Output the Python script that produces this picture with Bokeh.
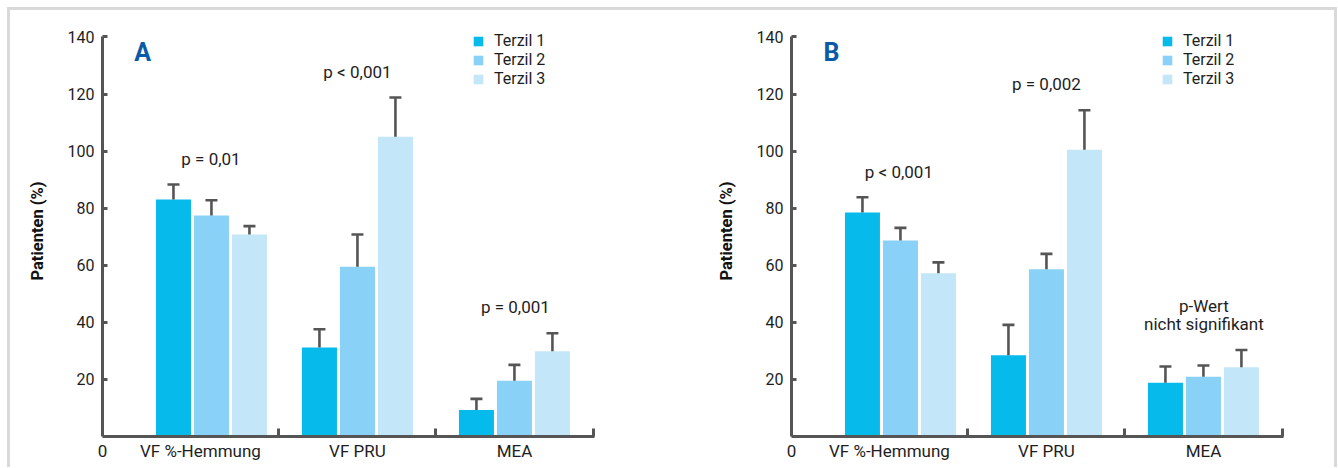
from bokeh.plotting import figure
from bokeh.models import (ColumnDataSource, FixedTicker, Whisker, TeeHead, Label,
                          Legend, LegendItem, Range1d, CustomJSTickFormatter)
from bokeh.layouts import row
from bokeh.embed import file_html
from bokeh.resources import INLINE

# ---------------- data ----------------
categories = ["VF %-Hemmung", "VF PRU", "MEA"]
series = ["Terzil 1", "Terzil 2", "Terzil 3"]
colors = ["#07BAEC", "#89D1F6", "#C3E6F8"]

a_t1 = [83.0, 31.2, 9.3]
a_t2 = [77.4, 59.5, 19.5]
a_t3 = [70.8, 105.0, 29.9]
a_t1_err = [88.3, 37.6, 13.2]
a_t2_err = [82.8, 70.8, 25.1]
a_t3_err = [73.7, 118.8, 36.2]

b_t1 = [78.5, 28.5, 18.8]
b_t2 = [68.7, 58.6, 20.9]
b_t3 = [57.2, 100.5, 24.3]
b_t1_err = [83.8, 39.1, 24.5]
b_t2_err = [73.1, 64.0, 24.9]
b_t3_err = [61.0, 114.3, 30.3]

y_ticks = [20, 40, 60, 80, 100, 120, 140]
origin_label = "0"
a_pvalues = ["p = 0,01", "p < 0,001", "p = 0,001"]
b_pvalues = ["p < 0,001", "p = 0,002", "p-Wert", "nicht signifikant"]

# ---------------- layout constants ----------------
FONT = "Roboto"
AX = "#555555"
TXT = "#1e1e1e"
X_START, X_END = 0.376, 3.51
Y_END = 144
group_pos = [1.07, 2.0, 3.0]
offsets = [-0.242, 0.0, 0.242]
BAR_W = 0.223
H = 457


def make_panel(letter, vals, errs, pvals, ppos, width, border_left, border_right):
    p = figure(width=width, height=H, output_backend="svg", toolbar_location=None,
               x_range=Range1d(X_START, X_END), y_range=Range1d(0, Y_END),
               min_border_left=border_left, min_border_right=border_right,
               min_border_top=15, min_border_bottom=31)
    p.outline_line_color = None
    p.xgrid.visible = False
    p.ygrid.visible = False

    renderers = []
    for i in range(3):
        xs = [g + offsets[i] for g in group_pos]
        src = ColumnDataSource(dict(x=xs, top=vals[i], err=errs[i]))
        r = p.vbar(x="x", top="top", width=BAR_W, source=src,
                   fill_color=colors[i], line_color=None)
        renderers.append(r)
        w = Whisker(source=src, base="x", lower="top", upper="err",
                    dimension="height", line_color=AX, line_width=2.6,
                    upper_head=TeeHead(size=12, line_color=AX, line_width=2.6),
                    lower_head=None, level="glyph")
        p.add_layout(w)

    # x axis
    xa = p.xaxis[0]
    xa.ticker = FixedTicker(ticks=[X_START + 0.0005, 1, 2, 3], minor_ticks=[1.5, 2.5, 3.505])
    xa.formatter = CustomJSTickFormatter(
        args=dict(labels=categories, zero=origin_label),
        code="if (tick < 0.9) { return zero; } return labels[Math.round(tick) - 1];")
    xa.major_tick_line_color = None
    xa.major_tick_in = 0
    xa.major_tick_out = 0
    xa.minor_tick_in = 8
    xa.minor_tick_out = 0
    xa.minor_tick_line_width = 3
    xa.minor_tick_line_color = AX
    xa.axis_line_width = 3
    xa.axis_line_color = AX
    xa.major_label_standoff = 4
    xa.major_label_text_font = FONT
    xa.major_label_text_font_size = "17px"
    xa.major_label_text_color = TXT

    # y axis
    ya = p.yaxis[0]
    ya.bounds = (0, 140)
    ya.ticker = FixedTicker(ticks=y_ticks, minor_ticks=[])
    ya.major_tick_in = 5
    ya.major_tick_out = 0
    ya.major_tick_line_width = 3
    ya.major_tick_line_color = AX
    ya.axis_line_width = 3
    ya.axis_line_color = AX
    ya.major_label_standoff = 8
    ya.major_label_text_font = FONT
    ya.major_label_text_font_size = "16px"
    ya.major_label_text_color = TXT
    ya.axis_label = "Patienten (%)"
    ya.axis_label_text_font = FONT
    ya.axis_label_text_font_style = "bold"
    ya.axis_label_text_font_size = "16.5px"
    ya.axis_label_text_color = "#111111"
    ya.axis_label_standoff = 18

    # panel letter
    p.add_layout(Label(x=0.631, y=134.7, text=letter, text_align="center",
                       text_baseline="middle", text_font=FONT, text_font_size="25px",
                       text_font_style="bold", text_color="#0a5aa8"))

    # p-values
    for t, (px, py) in zip(pvals, ppos):
        p.add_layout(Label(x=px, y=py, text=t, text_align="center", text_baseline="middle",
                           text_font=FONT, text_font_size="17px", text_color=TXT))

    legend = Legend(items=[LegendItem(label=s, renderers=[r]) for s, r in zip(series, renderers)],
                    location=(370, 348), glyph_width=12, glyph_height=12, label_height=12,
                    label_width=10, spacing=0, padding=0, margin=0, label_standoff=10,
                    border_line_color=None, background_fill_alpha=0,
                    label_text_font=FONT, label_text_font_size="16px",
                    label_text_color=TXT)
    p.add_layout(legend)
    return p


pA = make_panel("A", [a_t1, a_t2, a_t3], [a_t1_err, a_t2_err, a_t3_err], a_pvalues,
                [(1.067, 97.1), (2.0, 127.6), (3.006, 45.2)], 689, 92, 105)
pB = make_panel("B", [b_t1, b_t2, b_t3], [b_t1_err, b_t2_err, b_t3_err], b_pvalues,
                [(1.06, 92.6), (2.0, 123.4), (3.003, 45.8), (3.003, 39.4)], 635, 92, 51)

layout = row(pA, pB, styles={"margin-top": "7px", "margin-left": "7px",
                             "border-top": "3px solid #d9d9d9",
                             "border-left": "3px solid #d9d9d9",
                             "border-right": "3px solid #d9d9d9"})

open("out.html", "w").write(file_html(layout, INLINE))
